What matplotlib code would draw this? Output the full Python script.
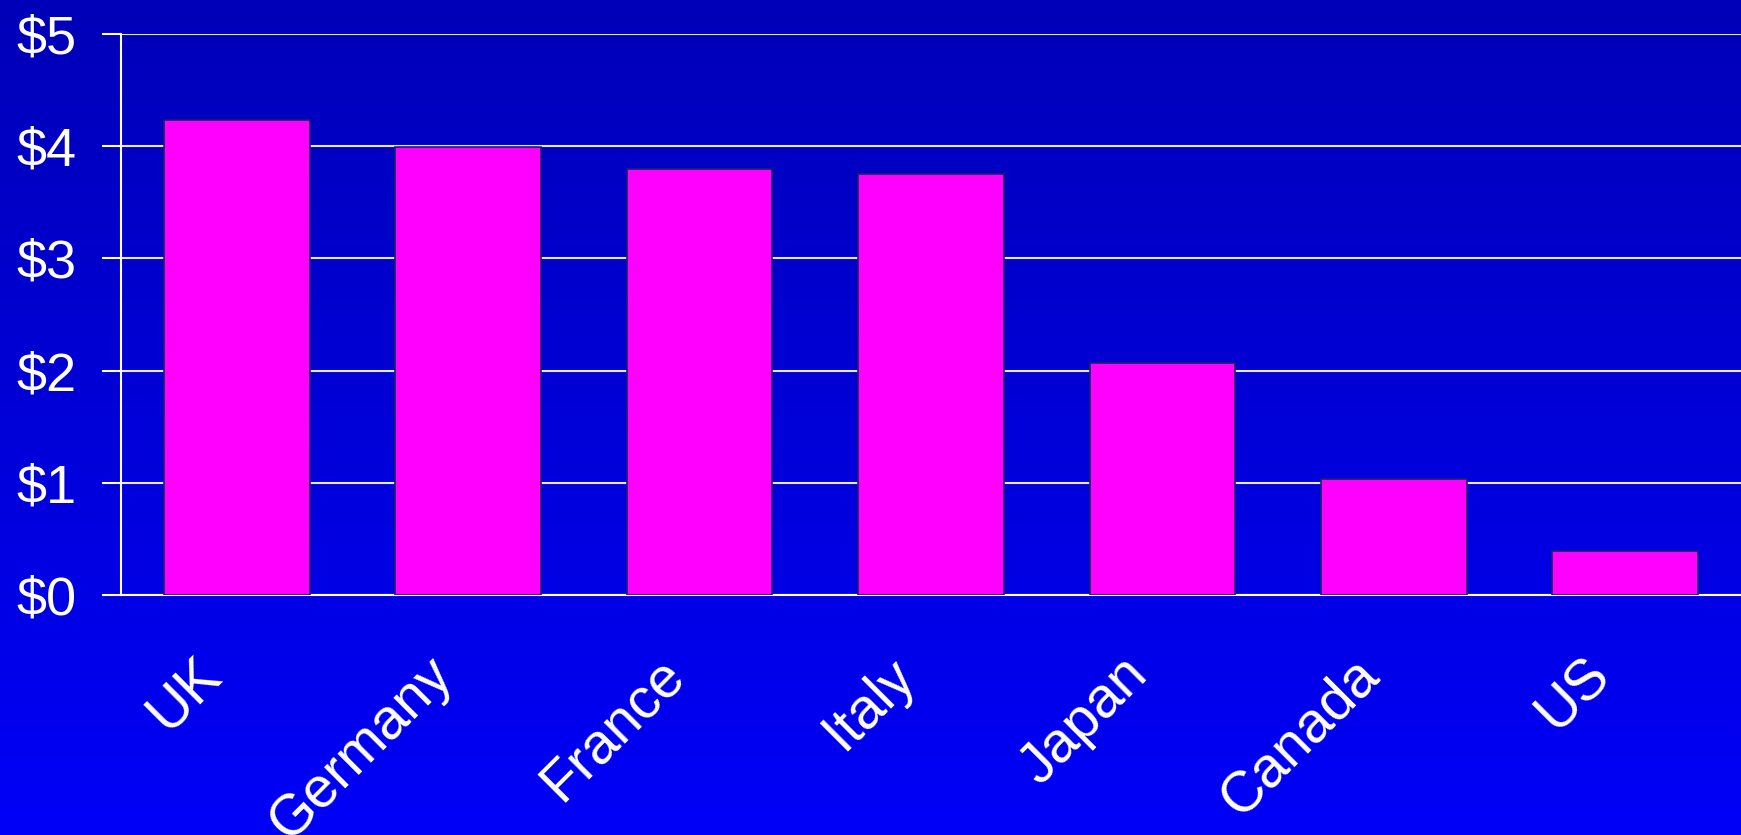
import numpy as np
import matplotlib
matplotlib.use("Agg")
import matplotlib.pyplot as plt
from matplotlib.transforms import ScaledTranslation

plt.rcParams['font.family'] = ['Liberation Sans', 'DejaVu Sans']

countries = ['UK', 'Germany', 'France', 'Italy', 'Japan', 'Canada', 'US']
values = [4.23, 3.99, 3.80, 3.75, 2.07, 1.03, 0.39]
yticks = [0, 1, 2, 3, 4, 5]
ytick_labels = ['$0', '$1', '$2', '$3', '$4', '$5']

fig = plt.figure(figsize=(17.41, 8.35), dpi=100)

# background gradient, dark blue at top to bright blue at bottom
bg = fig.add_axes([0, 0, 1, 1], zorder=0)
grad = np.linspace(0, 1, 256).reshape(-1, 1)
top = np.array([0, 0, 0xB8]) / 255
bottom = np.array([0, 0, 0xF8]) / 255
img = top + (bottom - top) * grad[..., None]
bg.imshow(np.repeat(img, 2, axis=1), aspect='auto', extent=[0, 1, 0, 1], origin='upper')
bg.set_axis_off()

ax = fig.add_axes([0.0695, 0.2874, 0.9305, 0.6719], zorder=1)
ax.patch.set_alpha(0)

x = np.arange(len(countries))
ax.bar(x, values, width=0.63, color='#FF00FF', edgecolor='#16226A', linewidth=1.2, zorder=3)

ax.set_xlim(-0.5, len(countries) - 0.5)
ax.set_ylim(0, 5)
ax.set_yticks(yticks)
ax.set_yticklabels(ytick_labels)
ax.set_xticks(x)
ax.set_xticklabels([])

# rotated category labels, placed a little left of and below each bar
offset = ScaledTranslation(-0.24, -0.715, fig.dpi_scale_trans)
for xi, name in zip(x, countries):
    ax.text(xi, 0, name, transform=ax.get_xaxis_transform() + offset,
            rotation=45, ha='right', va='center', rotation_mode='anchor',
            color='white', fontsize=41, clip_on=False)

ax.yaxis.grid(True, color='#E8E8F0', linewidth=1.5, zorder=1)
ax.set_axisbelow(True)

for side in ['top', 'right']:
    ax.spines[side].set_visible(False)
ax.spines['left'].set_color('white')
ax.spines['bottom'].set_color('white')
ax.spines['left'].set_linewidth(1.5)
ax.spines['bottom'].set_linewidth(1.5)

ax.tick_params(axis='y', colors='white', labelsize=39, length=14, width=1.5, pad=18)
ax.tick_params(axis='x', length=0)

fig.savefig('out.png', dpi=100)
